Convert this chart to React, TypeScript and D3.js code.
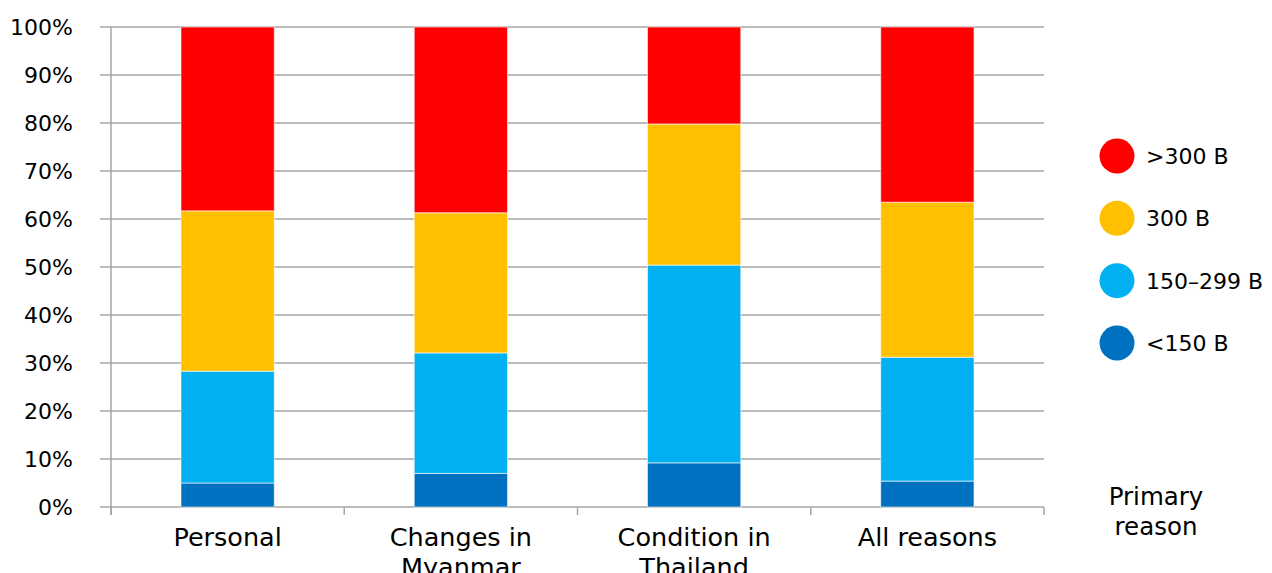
import React from "react";
import * as d3 from "d3";

const categories = [["Personal"], ["Changes in", "Myanmar"], ["Condition in", "Thailand"], ["All reasons"]];
const seriesNames = ["<150 B", "150–299 B", "300 B", ">300 B"];
const seriesColors = ["#0070C0", "#00B0F0", "#FFC000", "#FF0000"];
const lt150 = [5.0, 7.0, 9.2, 5.4];
const r150to299 = [23.3, 25.1, 41.2, 25.8];
const r300 = [33.4, 29.2, 29.4, 32.3];
const gt300 = [38.3, 38.7, 20.2, 36.5];
const yTicks = [0, 10, 20, 30, 40, 50, 60, 70, 80, 90, 100];

const W = 1272;
const H = 573;
const FONT = "'DejaVu Sans', sans-serif";

export default function App() {
  const left = 111;
  const right = 1044;
  const top = 27;
  const bottom = 507;
  const x = d3.scaleBand<number>().domain(d3.range(categories.length)).range([left, right]).paddingInner(0.6).paddingOuter(0.3);
  const xOuter = d3.scaleBand<number>().domain(d3.range(categories.length)).range([left, right]);
  const y = d3.scaleLinear().domain([0, 100]).range([bottom, top]);

  const rows = categories.map((_, i) => ({
    i,
    s0: lt150[i],
    s1: r150to299[i],
    s2: r300[i],
    s3: gt300[i],
  }));
  const stack = d3.stack<any>().keys(["s0", "s1", "s2", "s3"]);
  const layers = stack(rows);

  const legendOrder = [3, 2, 1, 0];
  const legendY = d3.scalePoint<number>().domain(legendOrder).range([156, 343]);

  return (
    <svg width={W} height={H} style={{ position: "absolute", left: 0, top: 0, background: "#fff" }} fontFamily={FONT}>
      {yTicks.map((t) => (
        <g key={t}>
          <line x1={100} x2={right} y1={y(t)} y2={y(t)} stroke="#a6a6a6" strokeWidth={1.5} />
          <text x={73} y={y(t)} dy="0.36em" textAnchor="end" fontSize={22} fill="#000">
            {t}%
          </text>
        </g>
      ))}
      <line x1={left} x2={left} y1={top} y2={bottom + 8} stroke="#a6a6a6" strokeWidth={1.5} />
      {d3.range(categories.length + 1).map((k) => {
        const xx = k < categories.length ? xOuter(k)! : right;
        return <line key={k} x1={xx} x2={xx} y1={bottom} y2={bottom + 8} stroke="#a6a6a6" strokeWidth={1.5} />;
      })}
      {layers.map((layer, li) => (
        <g key={li}>
          {layer.map((d, ci) => (
            <rect
              key={ci}
              x={x(ci)}
              width={x.bandwidth()}
              y={y(d[1])}
              height={y(d[0]) - y(d[1])}
              fill={seriesColors[li]}
              stroke="#ffffff"
              strokeOpacity={0.6}
              strokeWidth={1}
            />
          ))}
        </g>
      ))}
      {categories.map((lines, ci) => (
        <text key={ci} x={xOuter(ci)! + xOuter.bandwidth() / 2} y={546} textAnchor="middle" fontSize={25.5} fill="#000">
          {lines.map((l, li) => (
            <tspan key={li} x={xOuter(ci)! + xOuter.bandwidth() / 2} dy={li === 0 ? 0 : 30}>
              {l}
            </tspan>
          ))}
        </text>
      ))}
      {legendOrder.map((si) => (
        <g key={si}>
          <circle cx={1117} cy={legendY(si)} r={17.5} fill={seriesColors[si]} />
          <text x={1146} y={legendY(si)} dy="0.36em" fontSize={22} fill="#000">
            {seriesNames[si]}
          </text>
        </g>
      ))}
      <text x={1156} y={505} textAnchor="middle" fontSize={24.5} fill="#000">
        <tspan x={1156}>Primary</tspan>
        <tspan x={1156} dy={30}>reason</tspan>
      </text>
    </svg>
  );
}
